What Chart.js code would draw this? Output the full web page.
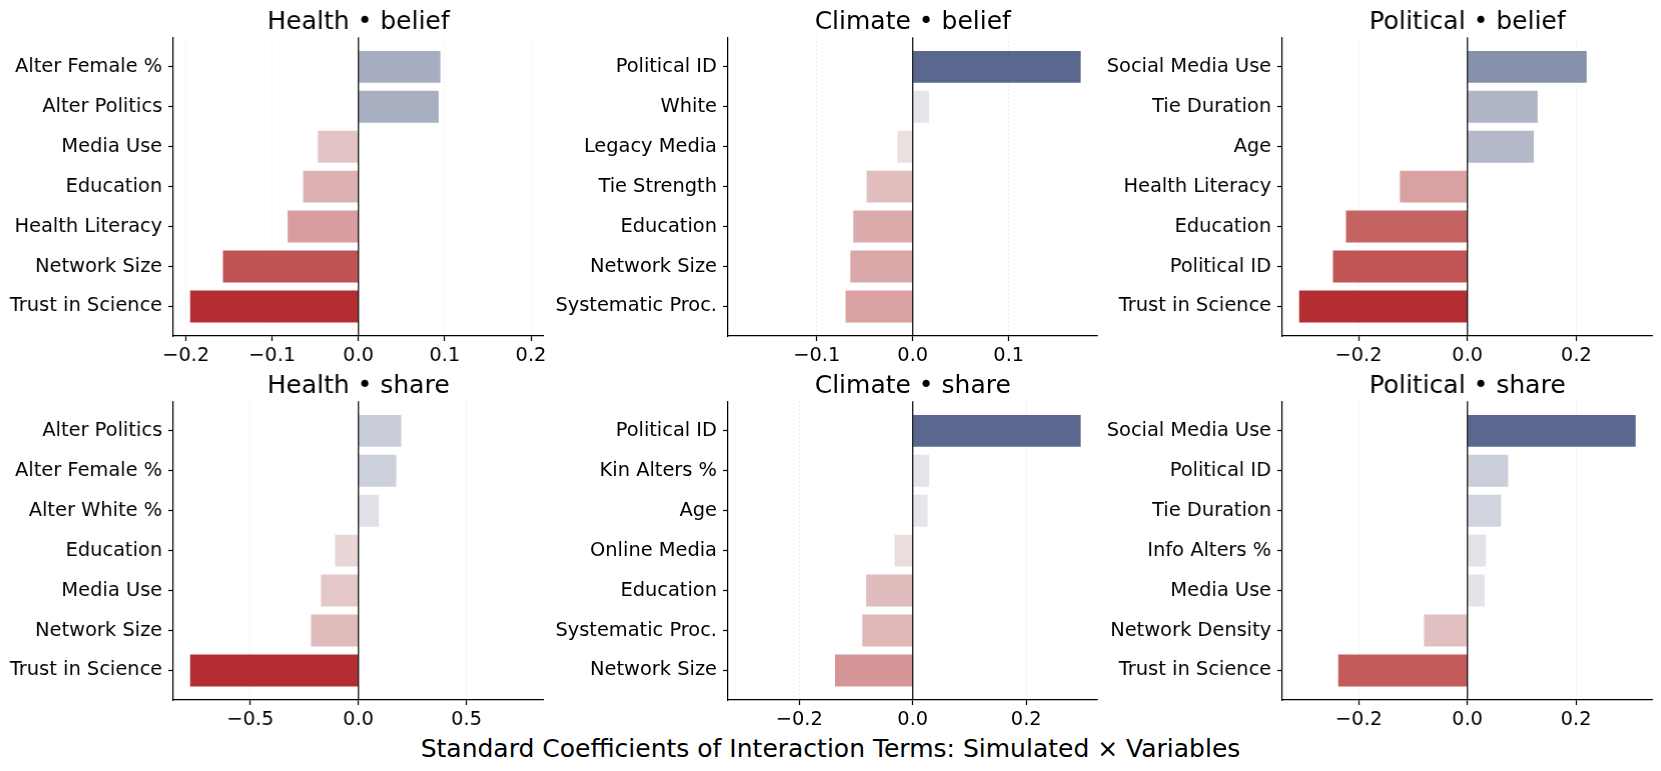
<!DOCTYPE html>
<html>
<head>
<meta charset="utf-8">
<title>Standard Coefficients of Interaction Terms</title>
<script src="https://cdn.jsdelivr.net/npm/chart.js@4.4.1/dist/chart.umd.min.js"></script>
<style>
    html, body { margin: 0; padding: 0; background: #fff; }
    body { width: 1661px; height: 771px; position: relative; overflow: hidden; font-family: 'DejaVu Sans', sans-serif; }
    .panel { position: absolute; }
    #xlabel { position: absolute; left: 0; top: 733.5px; width: 1661px; line-height: 30px; font-size: 25px; text-align: center; color: #000; }
</style>
</head>
<body>
<div id="xlabel">Standard Coefficients of Interaction Terms: Simulated × Variables</div>
<script>
// --- data ---
const healthBeliefLabels = ['Alter Female %', 'Alter Politics', 'Media Use', 'Education', 'Health Literacy', 'Network Size', 'Trust in Science'];
const healthBeliefValues = [0.095, 0.093, -0.047, -0.064, -0.082, -0.157, -0.195];
const healthBeliefTicks = [-0.2, -0.1, 0, 0.1, 0.2];

const climateBeliefLabels = ['Political ID', 'White', 'Legacy Media', 'Tie Strength', 'Education', 'Network Size', 'Systematic Proc.'];
const climateBeliefValues = [0.175, 0.017, -0.016, -0.048, -0.062, -0.065, -0.070];
const climateBeliefTicks = [-0.1, 0, 0.1];

const politicalBeliefLabels = ['Social Media Use', 'Tie Duration', 'Age', 'Health Literacy', 'Education', 'Political ID', 'Trust in Science'];
const politicalBeliefValues = [0.219, 0.129, 0.122, -0.124, -0.223, -0.247, -0.309];
const politicalBeliefTicks = [-0.2, 0, 0.2];

const healthShareLabels = ['Alter Politics', 'Alter Female %', 'Alter White %', 'Education', 'Media Use', 'Network Size', 'Trust in Science'];
const healthShareValues = [0.198, 0.175, 0.095, -0.108, -0.173, -0.219, -0.778];
const healthShareTicks = [-0.5, 0, 0.5];

const climateShareLabels = ['Political ID', 'Kin Alters %', 'Age', 'Online Media', 'Education', 'Systematic Proc.', 'Network Size'];
const climateShareValues = [0.296, 0.029, 0.026, -0.032, -0.082, -0.089, -0.137];
const climateShareTicks = [-0.2, 0, 0.2];

const politicalShareLabels = ['Social Media Use', 'Political ID', 'Tie Duration', 'Info Alters %', 'Media Use', 'Network Density', 'Trust in Science'];
const politicalShareValues = [0.310, 0.075, 0.062, 0.034, 0.032, -0.080, -0.238];
const politicalShareTicks = [-0.2, 0, 0.2];

const panels = [
    { title: 'Health • belief', labels: healthBeliefLabels, values: healthBeliefValues, ticks: healthBeliefTicks, col: 0, row: 0 },
    { title: 'Climate • belief', labels: climateBeliefLabels, values: climateBeliefValues, ticks: climateBeliefTicks, col: 1, row: 0 },
    { title: 'Political • belief', labels: politicalBeliefLabels, values: politicalBeliefValues, ticks: politicalBeliefTicks, col: 2, row: 0 },
    { title: 'Health • share', labels: healthShareLabels, values: healthShareValues, ticks: healthShareTicks, col: 0, row: 1 },
    { title: 'Climate • share', labels: climateShareLabels, values: climateShareValues, ticks: climateShareTicks, col: 1, row: 1 },
    { title: 'Political • share', labels: politicalShareLabels, values: politicalShareValues, ticks: politicalShareTicks, col: 2, row: 1 }
];

// --- layout ---
const colLeft = [173.2, 727.5, 1282.3];
const rowTop = [37.3, 401.7];
const AX_W = 369.5;
const AX_H = 298.7;
const Y_AXIS_W = 180;
const X_AXIS_H = 45;
const TITLE_H = 37.3;
const RIGHT_PAD = 30;
const TICK_FONT = 19.4;

Chart.defaults.font.family = "'DejaVu Sans', sans-serif";
Chart.defaults.color = '#000';

// diverging colour map (red -> light -> slate blue), t in [-1, 1]
const cmapStops = [
    [-1.00, [180, 45, 48]],
    [-0.75, [196, 94, 94]],
    [-0.42, [216, 157, 158]],
    [-0.25, [226, 194, 195]],
    [-0.10, [235, 223, 223]],
    [0.00, [237, 235, 237]],
    [0.10, [228, 229, 234]],
    [0.22, [205, 209, 220]],
    [0.45, [172, 178, 196]],
    [0.71, [135, 145, 171]],
    [1.00, [90, 104, 144]]
];

function barColor(t) {
    t = Math.max(-1, Math.min(1, t));
    for (let i = 1; i < cmapStops.length; i++) {
        const [t1, c1] = cmapStops[i];
        const [t0, c0] = cmapStops[i - 1];
        if (t <= t1) {
            const f = (t - t0) / (t1 - t0);
            const c = c0.map((v, k) => Math.round(v + (c1[k] - v) * f));
            return `rgb(${c[0]}, ${c[1]}, ${c[2]})`;
        }
    }
    return 'rgb(90, 104, 144)';
}

function formatTick(v) {
    if (Math.abs(v) < 1e-9) return '0.0';
    return (v < 0 ? '\u2212' : '') + Math.abs(v).toFixed(1);
}

// black reference line at x = 0
const zeroLine = {
    id: 'zeroLine',
    afterDatasetsDraw(chart) {
        const { ctx, chartArea, scales } = chart;
        const x = scales.x.getPixelForValue(0);
        ctx.save();
        ctx.strokeStyle = '#000';
        ctx.lineWidth = 1.2;
        ctx.beginPath();
        ctx.moveTo(x, chartArea.top);
        ctx.lineTo(x, chartArea.bottom);
        ctx.stroke();
        ctx.restore();
    }
};

panels.forEach(p => {
    const holder = document.createElement('div');
    holder.className = 'panel';
    holder.style.left = (colLeft[p.col] - Y_AXIS_W) + 'px';
    holder.style.top = (rowTop[p.row] - TITLE_H) + 'px';
    holder.style.width = (Y_AXIS_W + AX_W + RIGHT_PAD) + 'px';
    holder.style.height = (TITLE_H + AX_H + X_AXIS_H) + 'px';
    const canvas = document.createElement('canvas');
    holder.appendChild(canvas);
    document.body.appendChild(holder);

    const maxAbs = Math.max(...p.values.map(Math.abs));
    const lim = maxAbs * 1.1;

    new Chart(canvas, {
        type: 'bar',
        data: {
            datasets: [{
                data: p.values.map((v, i) => ({ x: v, y: i })),
                backgroundColor: p.values.map(v => barColor(v / maxAbs)),
                borderWidth: 0,
                barPercentage: 0.8,
                categoryPercentage: 1
            }]
        },
        options: {
            indexAxis: 'y',
            responsive: true,
            maintainAspectRatio: false,
            animation: false,
            layout: { padding: { top: 0, right: RIGHT_PAD, bottom: 0, left: 0 } },
            plugins: {
                legend: { display: false },
                tooltip: { enabled: false },
                title: {
                    display: true,
                    text: p.title,
                    fullSize: false,
                    color: '#000',
                    font: { size: 25, weight: 'normal' },
                    padding: { top: 7.3, bottom: 0 }
                }
            },
            scales: {
                x: {
                    type: 'linear',
                    min: -lim,
                    max: lim,
                    afterBuildTicks: s => { s.ticks = p.ticks.map(v => ({ value: v })); },
                    afterFit: s => { s.height = X_AXIS_H; },
                    ticks: {
                        callback: v => formatTick(v),
                        font: { size: TICK_FONT },
                        color: '#000',
                        padding: 3,
                        maxRotation: 0,
                        autoSkip: false
                    },
                    grid: {
                        color: 'rgba(0, 0, 0, 0.12)',
                        lineWidth: 0.8,
                        drawTicks: true,
                        tickLength: 5,
                        tickColor: '#000',
                        tickWidth: 1.25
                    },
                    border: { display: true, color: '#000', width: 1.25, dash: [1.5, 2.5] }
                },
                y: {
                    type: 'linear',
                    offset: false,
                    bounds: 'data',
                    min: -0.74,
                    max: 6.74,
                    reverse: true,
                    afterBuildTicks: s => { s.ticks = p.labels.map((_, i) => ({ value: i })); },
                    afterFit: s => { s.width = Y_AXIS_W; },
                    ticks: {
                        callback: v => p.labels[v],
                        font: { size: TICK_FONT },
                        color: '#000',
                        padding: 6,
                        autoSkip: false
                    },
                    grid: {
                        offset: false,
                        drawOnChartArea: false,
                        drawTicks: true,
                        tickLength: 5,
                        tickColor: '#000',
                        tickWidth: 1.25
                    },
                    border: { display: true, color: '#000', width: 1.25 }
                }
            }
        },
        plugins: [zeroLine]
    });
});
</script>
</body>
</html>
